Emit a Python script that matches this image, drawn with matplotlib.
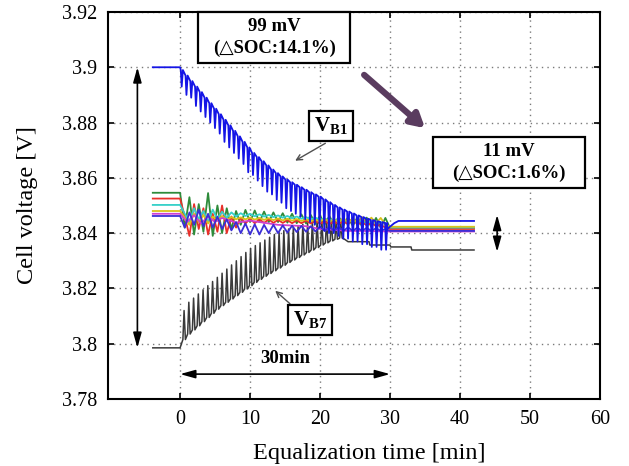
import matplotlib
matplotlib.use("Agg")
import matplotlib.pyplot as plt
import numpy as np
from matplotlib.patches import Rectangle
from matplotlib.ticker import FuncFormatter, MultipleLocator

plt.rcParams["font.family"] = ["Liberation Serif", "DejaVu Serif"]
plt.rcParams["mathtext.fontset"] = "custom"
plt.rcParams["mathtext.rm"] = "Liberation Serif"
plt.rcParams["mathtext.bf"] = "Liberation Serif:bold"

# ---- data ----
t_pre = -3.9      # start of the rest period [min]
t_end = 42.0      # end of recording [min]
x_ticks = [0, 10, 20, 30, 40, 50, 60]

# V_B1: baseline and spike minimum at each switching event
vb1_spike_t = np.linspace(0.1, 29.3, 44)
vb1_top = [3.899, 3.897, 3.895, 3.893, 3.891, 3.889, 3.887, 3.885, 3.883, 3.881,
           3.879, 3.877, 3.875, 3.873, 3.871, 3.869, 3.8675, 3.866, 3.8645, 3.863,
           3.8617, 3.8605, 3.8594, 3.8584, 3.8575, 3.8566, 3.8557, 3.8548, 3.854, 3.8532,
           3.8522, 3.8512, 3.8502, 3.8493, 3.8485, 3.8478, 3.8471, 3.8464, 3.8458, 3.8452,
           3.8447, 3.8443, 3.844, 3.8437]
vb1_low = [3.893, 3.890, 3.889, 3.886, 3.884, 3.882, 3.880, 3.878, 3.876, 3.873,
           3.871, 3.869, 3.867, 3.865, 3.862, 3.861, 3.859, 3.857, 3.855, 3.854,
           3.852, 3.851, 3.849, 3.848, 3.847, 3.846, 3.845, 3.844, 3.843, 3.842,
           3.841, 3.840, 3.840, 3.839, 3.838, 3.838, 3.837, 3.837, 3.836, 3.836,
           3.835, 3.835, 3.834, 3.834]
vb1_start = 3.900
vb1_tail_t = [29.6, 30.6, 31.2, 42.0]
vb1_tail_v = [3.8415, 3.8436, 3.8444, 3.8444]

# V_B7: valley and peak at each switching event
vb7_spike_t = np.linspace(0.4, 22.8, 34)
vb7_low = [3.8015, 3.8035, 3.805, 3.8065, 3.808, 3.8095, 3.811, 3.8125, 3.8138, 3.815,
           3.8162, 3.8174, 3.8186, 3.8198, 3.821, 3.8222, 3.8233, 3.8244, 3.8254, 3.8264,
           3.8274, 3.8284, 3.8294, 3.8303, 3.8312, 3.8321, 3.833, 3.8339, 3.8348, 3.8357,
           3.8365, 3.8372, 3.8378, 3.8382]
vb7_high = [3.812, 3.815, 3.8165, 3.818, 3.8195, 3.821, 3.8225, 3.824, 3.8255, 3.827,
            3.8285, 3.83, 3.8315, 3.833, 3.8345, 3.8355, 3.8365, 3.8375, 3.8385, 3.8395,
            3.8402, 3.8409, 3.8415, 3.8421, 3.8427, 3.8432, 3.8437, 3.8441, 3.8445, 3.8446,
            3.8446, 3.8444, 3.8441, 3.8436]
vb7_start = 3.7985
vb7_tail_t = [23.5, 24.0, 27.0, 27.1, 30.0, 30.1, 33.0, 33.1, 42.0]
vb7_tail_v = [3.8378, 3.8369, 3.8369, 3.8357, 3.8357, 3.835, 3.835, 3.8339, 3.8339]

# middle cells sampled on a common time grid
mid_t = np.linspace(0, 30, 46)
v_green = [3.8546, 3.8420, 3.8530, 3.8395, 3.8505, 3.8405, 3.8545, 3.8390, 3.8500, 3.8400,
           3.8490, 3.8415, 3.8480, 3.8430, 3.8484, 3.8440, 3.8482, 3.8440, 3.8478, 3.8440,
           3.8475, 3.8440, 3.8472, 3.8438, 3.8470, 3.8436, 3.8468, 3.8435, 3.8466, 3.8434,
           3.8464, 3.8432, 3.8462, 3.8430, 3.8460, 3.8428, 3.8458, 3.8426, 3.8457, 3.8424,
           3.8456, 3.8422, 3.8455, 3.8420, 3.8455, 3.8418]
v_red = [3.8525, 3.8460, 3.8390, 3.8505, 3.8415, 3.8490, 3.8395, 3.8470, 3.8405, 3.8500,
         3.8400, 3.8460, 3.8420, 3.8455, 3.8435, 3.8452, 3.8436, 3.8450, 3.8437, 3.8450,
         3.8437, 3.8448, 3.8437, 3.8447, 3.8436, 3.8446, 3.8436, 3.8445, 3.8435, 3.8444,
         3.8434, 3.8443, 3.8433, 3.8442, 3.8432, 3.8445, 3.8431, 3.8455, 3.8430, 3.8440,
         3.8428, 3.8438, 3.8425, 3.8430, 3.8420, 3.8415]
v_cyan = [3.8502, 3.8470, 3.8440, 3.8490, 3.8450, 3.8480, 3.8440, 3.8485, 3.8450, 3.8478,
          3.8455, 3.8475, 3.8460, 3.8472, 3.8462, 3.8470, 3.8461, 3.8468, 3.8460, 3.8466,
          3.8458, 3.8464, 3.8456, 3.8462, 3.8454, 3.8460, 3.8452, 3.8458, 3.8450, 3.8456,
          3.8448, 3.8453, 3.8446, 3.8450, 3.8444, 3.8448, 3.8442, 3.8446, 3.8440, 3.8444,
          3.8438, 3.8442, 3.8436, 3.8440, 3.8434, 3.8420]
v_gold = [3.8480, 3.8455, 3.8430, 3.8470, 3.8440, 3.8465, 3.8435, 3.8460, 3.8445, 3.8462,
          3.8448, 3.8458, 3.8450, 3.8457, 3.8450, 3.8456, 3.8449, 3.8455, 3.8448, 3.8454,
          3.8447, 3.8453, 3.8446, 3.8452, 3.8445, 3.8451, 3.8444, 3.8450, 3.8443, 3.8449,
          3.8442, 3.8452, 3.8441, 3.8450, 3.8440, 3.8455, 3.8439, 3.8452, 3.8438, 3.8458,
          3.8437, 3.8456, 3.8435, 3.8455, 3.8430, 3.8423]
v_purple = [3.8462, 3.8420, 3.8475, 3.8430, 3.8485, 3.8425, 3.8470, 3.8420, 3.8460, 3.8415,
            3.8450, 3.8410, 3.8440, 3.8400, 3.8435, 3.8395, 3.8432, 3.8395, 3.8430, 3.8400,
            3.8430, 3.8400, 3.8428, 3.8402, 3.8427, 3.8404, 3.8426, 3.8405, 3.8425, 3.8406,
            3.8424, 3.8407, 3.8423, 3.8408, 3.8422, 3.8408, 3.8421, 3.8408, 3.8420, 3.8408,
            3.8419, 3.8408, 3.8418, 3.8408, 3.8415, 3.8408]
magenta_t = [0, 1, 2, 3, 4, 5, 6, 8, 10, 14, 18, 20, 22, 24, 26, 28, 30]
v_magenta = [3.8470, 3.8440, 3.8465, 3.8435, 3.8460, 3.8440, 3.8455, 3.8438, 3.8445, 3.8430,
             3.8425, 3.8415, 3.8412, 3.8408, 3.8408, 3.8407, 3.8406]

mid_cells = [
    (mid_t, v_green, "#2e8b3a"),
    (mid_t, v_red, "#e8302a"),
    (mid_t, v_cyan, "#35d0c8"),
    (mid_t, v_gold, "#d9c21a"),
    (magenta_t, v_magenta, "#d040d0"),
    (mid_t, v_purple, "#3b2fd6"),
]


def spike_line(t0, v0, spike_t, base, peak, dt_peak, dt_back):
    # rest segment, then base -> peak -> base at each switching event
    xs, ys = [t_pre, t0], [v0, v0]
    for t, b, p in zip(spike_t, base, peak):
        xs += [t, t + dt_peak, t + dt_back]
        ys += [b, p, b]
    return xs, ys


fig = plt.figure(figsize=(6.29, 4.66), dpi=100)
ax = fig.add_axes([0.1717, 0.1438, 0.7822, 0.8305])

# V_B7
x7, y7 = spike_line(0.0, vb7_start, vb7_spike_t, vb7_low, vb7_high, 0.17, 0.36)
x7 = x7 + vb7_tail_t
y7 = y7 + vb7_tail_v
ax.plot(x7, y7, color="#3a3a3a", lw=1.1, zorder=3)

# middle cells
for tt, vv, col in mid_cells:
    xs = [t_pre] + list(tt) + [t_end]
    ys = [vv[0]] + list(vv) + [vv[-1]]
    ax.plot(xs, ys, color=col, lw=1.3, zorder=3)

# V_B1
x1, y1 = spike_line(0.0, vb1_start, vb1_spike_t, vb1_top, vb1_low, 0.13, 0.3)
x1 = x1 + vb1_tail_t
y1 = y1 + vb1_tail_v
ax.plot(x1, y1, color="#1515e6", lw=1.3, zorder=4)

# axes styling
ax.set_xlim(-10.3, 60)
ax.set_ylim(3.78, 3.92)
ax.set_xticks(x_ticks)
ax.yaxis.set_major_locator(MultipleLocator(0.02))
ax.yaxis.set_major_formatter(FuncFormatter(lambda v, p: f"{v:g}"))
ax.grid(True, color="#7a7a7a", linestyle=(0, (1, 3)), lw=1.0)
ax.tick_params(direction="in", top=True, right=True, length=4, width=1.2,
               labelsize=14.5, pad=8)
for s in ax.spines.values():
    s.set_linewidth(1.5)
ax.set_xlabel("Equalization time [min]", fontsize=17.5)
ax.xaxis.set_label_coords(0.53, -0.115)
ax.set_ylabel("Cell voltage [V]", fontsize=17.5)
ax.yaxis.set_label_coords(-0.142, 0.5)

# annotation boxes
boxes = [
    (2.6, 3.9015, 21.7, 0.0185),
    (36.1, 3.8563, 21.8, 0.0185),
    (18.4, 3.8733, 6.3, 0.0109),
    (15.4, 3.8031, 6.3, 0.0109),
]
for bx, by, bw, bh in boxes:
    ax.add_patch(Rectangle((bx, by), bw, bh, facecolor="white", edgecolor="black",
                           lw=1.6, zorder=6, clip_on=False))

ax.text(13.45, 3.9108, "99 mV\n(△SOC:14.1%)", ha="center", va="center",
        fontsize=13.5, fontweight="bold", linespacing=1.3, zorder=7)
ax.text(47.0, 3.8656, "11 mV\n(△SOC:1.6%)", ha="center", va="center",
        fontsize=13.5, fontweight="bold", linespacing=1.3, zorder=7)
ax.text(21.55, 3.8788, r"$\mathbf{V}_{\mathbf{B1}}$", ha="center", va="center",
        fontsize=15, zorder=7)
ax.text(18.55, 3.8086, r"$\mathbf{V}_{\mathbf{B7}}$", ha="center", va="center",
        fontsize=15, zorder=7)

# label pointers
ax.annotate("", xy=(16.1, 3.8657), xytext=(21.1, 3.8730),
            arrowprops=dict(arrowstyle="->", color="#505050", lw=1.0), zorder=5)
ax.annotate("", xy=(13.3, 3.8198), xytext=(16.0, 3.8138),
            arrowprops=dict(arrowstyle="->", color="#505050", lw=1.0), zorder=5)

# purple trend arrow
ax.annotate("", xy=(35.3, 3.8773), xytext=(26.0, 3.8979),
            arrowprops=dict(arrowstyle="-|>,head_length=0.8,head_width=0.45",
                            color="#5a3c5f", lw=4.5), zorder=5)

# dimension arrows
arr = dict(arrowstyle="<|-|>,head_length=0.9,head_width=0.25", color="black",
           lw=1.2, shrinkA=0, shrinkB=0)
ax.annotate("", xy=(-6.1, 3.9), xytext=(-6.1, 3.7985), arrowprops=arr)
ax.annotate("", xy=(0, 3.789), xytext=(30, 3.789), arrowprops=arr)
ax.annotate("", xy=(45.3, 3.8466), xytext=(45.3, 3.8332), arrowprops=arr)
ax.text(15, 3.7948, "30min", ha="center", va="center", fontsize=13.5,
        fontweight="bold")

fig.savefig("out.png", dpi=100)
